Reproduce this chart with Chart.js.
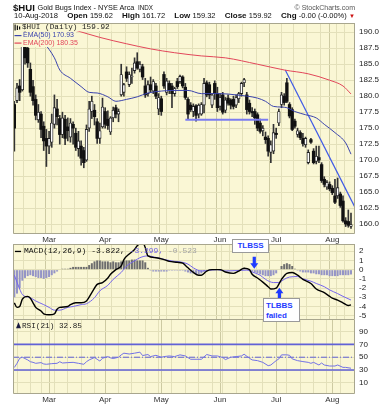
<!DOCTYPE html>
<html>
<head>
<meta charset="utf-8">
<script src="https://cdn.jsdelivr.net/npm/chart.js@4.4.1/dist/chart.umd.min.js"></script>
<style>
  html, body { margin: 0; padding: 0; background: #fff; }
  #wrap { position: relative; width: 392px; height: 407px; overflow: hidden;
          font-family: "Liberation Sans", Arial, sans-serif; color: #111; }
  canvas { position: absolute; left: 0; }
  .abs { position: absolute; line-height: 1; white-space: nowrap; }
  #row2 { position: absolute; left: 14px; width: 341px; top: 12.3px; display: flex; font-size: 8px;
          justify-content: space-between; align-items: baseline; white-space: nowrap; line-height: 1; }
  #row2 b { font-size: 8px; }
  #row2 .n { font-size: 7.5px; }
  .note { position: absolute; background: #fff; border: 1px solid #9a9a9a; color: #1f3bff;
          font: bold 8px "Liberation Sans", Arial, sans-serif; box-sizing: border-box; line-height: 10px; }
</style>
</head>
<body>
<div id="wrap">
  <canvas id="mainChart" width="392" height="244" style="top:0"></canvas>
  <canvas id="macdChart" width="392" height="76" style="top:244px"></canvas>
  <canvas id="rsiChart" width="392" height="87" style="top:320px"></canvas>

  <span class="abs" style="left:13px;top:2.6px;font-weight:bold;font-size:9.6px">$HUI</span>
  <span class="abs" style="left:37.5px;top:4.1px;font-size:7.3px">Gold Bugs Index - NYSE Arca</span>
  <span class="abs" style="left:138px;top:4.8px;font-size:6.3px">INDX</span>
  <span class="abs" style="right:37px;top:4px;font-size:7px;color:#555">© StockCharts.com</span>
  <div id="row2">
    <span style="font-size:7.6px">10-Aug-2018</span>
    <span><b>Open</b> <span class="n">159.62</span></span>
    <span><b>High</b> <span class="n">161.72</span></span>
    <span><b>Low</b> <span class="n">159.32</span></span>
    <span><b>Close</b> <span class="n">159.92</span></span>
    <span><b>Chg</b> <span class="n">-0.00 (-0.00%)</span> <span style="color:#cc1111;font-size:6px">▼</span></span>
  </div>

  <div class="note" style="left:232px;top:239px;width:37px;height:14px;text-align:center;line-height:12px">TLBSS</div>
  <div class="note" style="left:263px;top:298px;width:37px;height:24px;padding:2px 0 0 2px">TLBBS<br>failed</div>
</div>

<script>
// ---- time axis (trading day index, 9-Feb-2018 .. 10-Aug-2018) ----
const monthStarts = [13, 34, 55, 77, 98, 119];
const monthNames = ['Mar', 'Apr', 'May', 'Jun', 'Jul', 'Aug'];
const weekStarts = [1, 6, 10, 15, 20, 25, 30, 34, 39, 44, 49, 54, 59, 64, 69, 74, 78, 83, 88, 93, 98, 102, 107, 112, 117, 122];

// ---- $HUI daily candles ----
const opens = [178.7,179.3,181.6,181.0,189.0,187.5,184.2,181.5,179.5,176.3,177.2,175.3,173.4,
  172.2,172.8,175.6,178.0,176.5,174.0,176.4,175.2,173.6,175.6,174.2,171.8,172.2,171.5,170.0,175.0,177.6,177.8,176.0,173.4,175.2,
  177.6,176.4,174.4,176.6,178.2,177.2,180.2,180.6,183.8,181.8,183.0,184.0,185.4,184.2,184.6,181.6,180.4,181.8,180.8,181.6,178.0,
  179.6,183.4,180.6,182.0,181.6,180.4,182.3,182.3,183.0,181.4,179.5,178.6,177.6,178.5,177.2,177.2,178.6,182.1,181.8,178.6,182.0,180.4,
  178.4,180.2,177.8,179.7,179.4,179.5,178.6,179.6,180.4,182.1,180.2,178.9,177.6,177.6,177.1,175.8,174.6,173.6,173.4,171.2,171.4,
  174.2,175.8,178.7,180.0,182.1,178.7,177.9,176.1,174.0,174.3,173.4,172.4,169.6,173.2,171.4,169.8,170.4,169.3,167.0,165.8,166.2,
  165.6,164.4,164.4,164.7,163.6,160.5,160.4,159.62];
const highs = [179.2,182.0,182.6,189.8,190.2,189.0,185.2,182.5,180.2,178.7,177.6,176.0,174.8,
  174.5,177.2,180.2,179.5,177.0,177.5,177.0,176.6,176.5,176.0,175.0,174.5,173.0,172.0,175.5,179.2,180.0,178.7,176.5,175.8,179.7,
  178.2,177.7,176.8,178.3,178.6,178.0,185.0,182.0,184.6,183.8,184.4,186.0,186.8,185.4,185.0,182.8,182.4,183.0,182.6,182.0,180.4,
  180.0,183.8,182.8,182.4,182.0,181.4,182.8,183.3,183.2,182.0,179.8,179.0,178.8,178.7,178.8,179.0,182.8,182.4,182.2,180.4,182.4,181.4,
  180.4,180.6,179.8,180.2,179.6,180.0,180.2,180.6,182.2,182.8,180.6,179.4,178.2,178.0,177.4,176.4,175.4,174.4,173.8,173.0,175.6,
  175.0,178.0,180.6,180.4,182.8,179.0,178.2,176.4,175.0,174.6,174.2,173.6,171.6,173.4,171.8,172.2,172.2,169.6,167.4,166.8,166.6,
  166.0,167.0,167.2,165.0,164.4,161.0,162.2,161.72];
const lows = [171.4,179.0,179.3,180.8,185.0,184.5,180.0,178.6,176.3,175.9,173.5,171.5,169.0,
  171.0,172.0,175.0,175.5,172.5,173.5,172.4,173.0,172.8,172.5,171.5,170.6,169.2,168.8,169.8,174.5,176.5,175.5,172.6,172.6,175.0,
  175.0,174.8,174.0,176.0,176.6,176.0,180.0,180.0,182.3,181.5,182.0,183.6,184.2,183.8,182.6,179.8,180.0,180.6,180.4,179.6,177.1,
  177.0,181.2,180.2,180.4,178.2,180.0,181.2,182.0,181.3,179.5,176.4,177.6,176.8,176.1,176.6,177.0,177.4,179.9,179.6,178.2,179.5,177.6,
  177.8,177.2,177.4,178.6,178.0,178.0,178.2,179.0,180.0,181.5,177.2,177.2,176.8,175.6,174.6,174.2,173.8,172.6,170.6,169.6,171.0,
  173.4,175.4,178.2,178.6,179.0,176.6,174.6,175.0,173.6,173.2,172.2,172.0,169.4,172.6,169.4,169.4,169.6,166.5,165.8,165.4,165.2,
  164.6,163.2,164.0,162.6,160.3,159.6,159.5,159.32];
const closes = [175.0,181.3,180.6,188.6,186.0,185.2,180.6,179.3,177.0,177.5,174.8,173.0,172.2,
  173.4,175.8,178.2,176.8,174.0,176.6,173.4,174.6,175.8,175.0,172.0,173.0,170.3,169.6,174.8,178.0,179.2,176.8,173.4,174.6,178.3,
  175.6,175.4,176.6,177.8,177.2,177.6,183.4,181.8,182.8,183.4,183.0,185.2,184.4,185.0,183.0,180.2,181.8,181.0,182.3,180.0,179.8,
  177.6,181.6,182.4,181.0,180.4,181.2,181.5,183.1,181.6,179.8,177.2,177.9,178.4,177.0,178.6,178.7,182.0,180.2,180.2,180.2,180.4,178.2,
  179.8,177.5,179.4,178.9,178.6,178.4,179.8,180.4,182.0,182.6,177.9,177.6,177.4,176.6,175.0,174.5,175.0,173.2,171.4,172.4,174.3,
  174.0,177.6,180.2,179.0,179.2,176.9,174.8,175.3,174.6,173.5,172.6,173.4,171.2,172.8,169.6,170.6,170.0,166.8,166.2,166.5,165.5,
  164.9,163.4,165.7,162.9,160.5,160.0,159.8,159.92];

// ---- moving averages [day, value] ----
const ema50 = [[0,193],[5,191],[11,188.4],[15,186.0],[17,184.1],[21,182.8],[25,181.5],[28,180.6],[31,180.5],[35,179.9],
  [38,179.2],[42,179.5],[46,179.9],[50,180.5],[55,180.8],[59,180.9],[65,180.9],[70,180.4],[77,180.4],[83,180.2],[91,179.7],
  [94,179.2],[97,178.4],[100,178.3],[102,178.2],[105,177.6],[109,177.1],[113,176.6],[116,175.6],[120,174.3],[124,172.7],[126,170.93]];
const ema200 = [[0,193.5],[13,191.5],[23,190.3],[32,189.2],[42,188.2],[51,187.4],[60,186.8],[70,186.3],[79,186.0],[91,185.0],
  [101,184.1],[110,183.5],[118,182.5],[123,181.6],[126,180.35]];

// ---- trend lines [day, price] ----
const supportLine = [[64,176.3],[95,176.3]];
const downTrend = [[101.4,184.1],[127.5,162.6]];

// ---- MACD(12,26,9) ----
const macdLine = [[0,-3.6],[1,-4.1],[2,-4.0],[3,-3.2],[5,-2.9],[6,-3.1],[7,-3.6],[8,-4.1],[10,-4.5],[11,-4.8],[13,-4.9],
  [15,-4.8],[16,-4.3],[17,-4.1],[20,-4.0],[21,-3.8],[23,-3.6],[25,-3.6],[27,-3.4],[29,-2.5],[31,-1.6],[33,-1.4],[35,-0.9],
  [36,-0.5],[38,0.0],[40,0.4],[41,1.1],[43,1.7],[45,2.2],[46,2.6],[48,3.0],[49,2.4],[50,1.5],[53,1.3],[56,1.1],[58,0.9],
  [61,0.8],[63,0.7],[65,0.2],[67,-0.3],[69,-0.6],[70,-0.6],[72,-0.15],[74,0.0],[77,0.0],[79,-0.25],[82,-0.4],[84,-0.15],
  [86,0.15],[88,0.0],[89,-0.5],[91,-0.9],[93,-1.35],[95,-1.85],[96,-2.1],[98,-2.0],[100,-1.05],[102,-0.4],[104,-0.3],
  [106,-0.6],[108,-1.05],[111,-1.5],[113,-2.1],[116,-2.5],[118,-2.9],[119,-3.1],[121,-3.3],[123,-3.6],[125,-3.9],[126,-3.822]];
const signalLine = [[0,-0.6],[2,-2.1],[3,-2.7],[6,-3.05],[8,-3.4],[11,-3.8],[13,-4.1],[15,-4.4],[17,-4.4],[20,-4.1],
  [22,-4.0],[25,-3.8],[27,-3.7],[30,-3.05],[32,-2.3],[35,-1.7],[37,-1.05],[40,-0.3],[42,0.4],[45,0.95],[47,1.3],[50,1.5],
  [52,1.4],[55,1.2],[57,1.05],[60,0.9],[62,0.85],[65,0.6],[67,0.2],[70,-0.15],[72,-0.1],[76,0.0],[79,-0.15],[83,-0.1],
  [87,-0.05],[89,-0.25],[92,-0.6],[94,-1.05],[97,-1.4],[99,-1.4],[101,-1.05],[103,-0.8],[106,-0.75],[108,-1.0],[111,-1.25],
  [113,-1.5],[116,-1.85],[118,-2.2],[121,-2.6],[123,-2.9],[126,-3.299]];
const macdHist = [-3.0,-2.6,-2.0,-1.2,-0.9,-0.7,-0.6,-0.7,-0.8,-0.9,
  -0.9,-1.0,-0.9,-0.8,-0.6,-0.4,-0.2,0.0,0.1,0.1,
  0.1,0.2,0.3,0.3,0.3,0.3,0.3,0.3,0.5,0.7,
  0.9,1.0,1.0,0.9,0.9,0.9,0.8,0.9,0.8,0.8,
  0.9,1.0,1.0,1.0,1.1,1.1,1.0,1.0,1.0,0.8,
  0.2,-0.1,-0.2,-0.2,-0.2,-0.2,-0.2,-0.2,-0.1,-0.1,
  -0.1,-0.1,-0.1,-0.1,-0.2,-0.3,-0.4,-0.4,-0.5,-0.5,
  -0.4,-0.2,-0.1,0.0,0.0,0.0,0.0,0.0,-0.1,-0.1,
  -0.1,-0.1,-0.1,0.0,0.0,0.1,0.2,0.1,0.0,-0.2,
  -0.3,-0.4,-0.5,-0.6,-0.7,-0.7,-0.7,-0.6,-0.4,0.0,
  0.4,0.6,0.7,0.6,0.4,0.1,-0.1,-0.2,-0.3,-0.3,
  -0.3,-0.4,-0.4,-0.5,-0.5,-0.6,-0.6,-0.6,-0.7,-0.7,
  -0.7,-0.7,-0.6,-0.6,-0.6,-0.6,-0.523];
// arrow anchors for the TLBSS / TLBBS notes [day, macd value, direction]
const macdArrows = [[89.8, 0.11, 1], [99.2, -1.96, -1]];

// ---- RSI(21) [day, value] ----
const rsiLine = [[0,34],[1,40.5],[2,48.4],[3,50],[5,45.8],[6,43],[7,42],[8,40.5],[10,41.6],[11,39.5],[12,39],[14,40],
  [16,40.5],[17,43],[18,41],[20,41.6],[22,42],[24,40.5],[26,39],[27,43],[28,45.8],[30,49.5],[31,46.8],[32,44],[33,48.4],
  [35,51],[36,49],[37,48],[39,50],[40,53.7],[41,56.3],[43,55],[45,56.3],[47,57.9],[48,52.6],[50,54.2],[51,51],[53,53],
  [55,50],[56,51],[58,52],[60,51],[62,53.7],[64,52],[66,46.8],[68,46.8],[70,46.8],[72,54.2],[74,52],[76,52],[78,49.5],
  [79,46.3],[81,50],[83,51],[85,52],[86,54.7],[88,48.4],[89,45.8],[91,44.7],[93,42],[95,36.8],[96,37.9],[98,44.7],
  [99,47.4],[100,53.7],[102,53.7],[103,53],[104,47.4],[106,44.7],[108,43.2],[110,42],[111,40.5],[112,42],[114,37.9],
  [115,41],[116,37.9],[118,36.3],[120,36.3],[121,37.9],[123,34.2],[124,34.2],[126,32.85]];
const rsiLevels = [70, 50, 30];

// ---- axis ticks ----
const mainTicks = [160, 162.5, 165, 167.5, 170, 172.5, 175, 177.5, 180, 182.5, 185, 187.5, 190];
const macdTicks = [-5, -4, -3, -2, -1, 0, 1, 2];
const rsiTicks = [10, 30, 50, 70, 90];

// ---- look ----
const PLOT_BG = '#faf7d5';
const GRID = '#e3e0ba';
const GRID_MONTH = '#cdcaa2';
const FRAME = '#a8a68e';
const SANS = '"Liberation Sans", Arial, sans-serif';
const MONO = '"Liberation Mono", "Courier New", monospace';

Chart.defaults.font.family = SANS;
Chart.defaults.animation = false;
Chart.defaults.responsive = false;
Chart.defaults.plugins.legend.display = false;
Chart.defaults.plugins.tooltip.enabled = false;

const pts = arr => arr.map(([x, y]) => ({ x, y }));
const xTicks = [...new Set([...weekStarts, ...monthStarts])].sort((a, b) => a - b);

// chart.js reserves half a label of room at the axis ends; the panels here butt against each other
function noPad(s) { s.paddingTop = 0; s.paddingBottom = 0; s.paddingLeft = 0; s.paddingRight = 0; }

function xScale(labelHeight) {
  return {
    type: 'linear', min: -0.5, max: 127.5, offset: false,
    afterBuildTicks: s => { s.ticks = xTicks.map(v => ({ value: v })); },
    afterFit: s => { s.height = labelHeight; noPad(s); },
    ticks: {
      display: labelHeight > 0, autoSkip: false, maxRotation: 0, padding: 1,
      color: '#333', font: { size: 8 },
      callback: v => { const k = monthStarts.indexOf(v); return k >= 0 ? monthNames[k] : ''; }
    },
    grid: {
      drawTicks: false, lineWidth: 1,
      color: c => (c.tick && monthStarts.includes(c.tick.value)) ? GRID_MONTH : GRID
    },
    border: { display: false }
  };
}
function yScale(min, max, ticks, fmt) {
  return {
    position: 'right', min, max,
    afterBuildTicks: s => { s.ticks = ticks.map(v => ({ value: v })); },
    afterFit: s => { s.width = 37; noPad(s); },
    ticks: { autoSkip: false, padding: 4, color: '#222', font: { size: 8 }, callback: fmt },
    grid: { drawTicks: false, color: GRID },
    border: { display: false }
  };
}
function panelFrame(skipTop) {
  return {
    id: 'panelFrame',
    beforeDraw(chart) {
      const { ctx, chartArea: a } = chart;
      ctx.save(); ctx.fillStyle = PLOT_BG;
      ctx.fillRect(a.left, a.top, a.right - a.left, a.bottom - a.top);
      ctx.restore();
    },
    afterDraw(chart) {
      const { ctx, chartArea: a } = chart;
      ctx.save(); ctx.strokeStyle = FRAME; ctx.lineWidth = 1;
      ctx.beginPath();
      if (!skipTop) { ctx.moveTo(a.left + 0.5, a.top + 0.5); ctx.lineTo(a.right - 0.5, a.top + 0.5); }
      ctx.moveTo(a.right - 0.5, a.top); ctx.lineTo(a.right - 0.5, a.bottom - 0.5);
      ctx.lineTo(a.left + 0.5, a.bottom - 0.5); ctx.lineTo(a.left + 0.5, a.top);
      ctx.stroke(); ctx.restore();
    }
  };
}

// legend label painted inside a panel: parts = [[text, color], ...]
function paintLabel(ctx, x, y, font, parts, bg) {
  ctx.font = font; ctx.textBaseline = 'middle';
  let w = 0;
  parts.forEach(p => { w += ctx.measureText(p[0]).width; });
  if (bg) { ctx.fillStyle = PLOT_BG; ctx.fillRect(x - 9, y - 4, w + 11, 8); }
  parts.forEach(p => { ctx.fillStyle = p[1]; ctx.fillText(p[0], x, y); x += ctx.measureText(p[0]).width; });
}

// ================= main price panel =================
const upDay = closes.map((c, i) => c >= opens[i]);
new Chart(document.getElementById('mainChart'), {
  type: 'bar',
  data: {
    datasets: [
      { type: 'line', data: pts(ema50), borderColor: '#3b44ad', borderWidth: 1, pointRadius: 0, cubicInterpolationMode: 'monotone', order: 0 },
      { type: 'line', data: pts(ema200), borderColor: '#e2475a', borderWidth: 1, pointRadius: 0, cubicInterpolationMode: 'monotone', order: 0 },
      { type: 'line', data: pts(supportLine), borderColor: '#7b7cf0', borderWidth: 2, pointRadius: 0, order: 0 },
      { type: 'line', data: pts(downTrend), borderColor: '#3f5ae6', borderWidth: 1.2, pointRadius: 0, order: 0 },
      { data: closes.map((c, i) => ({ x: i, y: [opens[i], c] })), grouped: false, barThickness: 2.7, minBarLength: 1,
        backgroundColor: upDay.map(u => u ? '#ffffff' : '#111111'), borderColor: '#222', borderWidth: upDay.map(u => u ? 0.9 : 0),
        borderSkipped: false, order: 1 },
      { data: closes.map((c, i) => ({ x: i, y: [lows[i], highs[i]] })), grouped: false, barThickness: 1,
        backgroundColor: '#333', borderWidth: 0, order: 2 }
    ]
  },
  options: {
    layout: { padding: { top: 23, left: 13, right: 0, bottom: 0 } },
    scales: { x: xScale(10), y: yScale(158.44, 191.45, mainTicks, v => v.toFixed(1)) }
  },
  plugins: [panelFrame(false), {
    id: 'mainLegend',
    afterDatasetsDraw(chart) {
      const { ctx, chartArea: a } = chart;
      const x0 = a.left + 9;
      ctx.save();
      paintLabel(ctx, x0, a.top + 4.3, '7.7px ' + MONO, [['$HUI (Daily) 159.92', '#222']], true);
      ctx.fillStyle = '#111';
      ctx.fillRect(a.left + 1.5, a.top + 1.5, 1.2, 6); ctx.fillRect(a.left + 3.8, a.top + 2.5, 1.2, 4.5); ctx.fillRect(a.left + 6, a.top + 3.5, 1.2, 3);
      paintLabel(ctx, x0 + 1, a.top + 12.5, '7px ' + SANS, [['EMA(50) 170.93', '#3b44ad']], true);
      paintLabel(ctx, x0 + 1, a.top + 20, '7px ' + SANS, [['EMA(200) 180.35', '#e2475a']], true);
      ctx.fillStyle = '#3b44ad'; ctx.fillRect(a.left + 1.5, a.top + 12, 7, 1.2);
      ctx.fillStyle = '#e2475a'; ctx.fillRect(a.left + 1.5, a.top + 19.5, 7, 1.2);
      ctx.restore();
    }
  }]
});

// ================= MACD panel =================
new Chart(document.getElementById('macdChart'), {
  type: 'bar',
  data: {
    datasets: [
      { type: 'line', data: pts(macdLine), borderColor: '#000', borderWidth: 1.4, pointRadius: 0, cubicInterpolationMode: 'monotone', order: 0 },
      { type: 'line', data: pts(signalLine), borderColor: '#7566ee', borderWidth: 1, pointRadius: 0, cubicInterpolationMode: 'monotone', order: 0 },
      { data: macdHist.map((v, i) => ({ x: i, y: v })), backgroundColor: macdHist.map(v => v >= 0 ? '#6d6d6d' : '#9494c6'),
        barPercentage: 0.75, categoryPercentage: 1, order: 1 }
    ]
  },
  options: {
    layout: { padding: { top: 0, left: 13, right: 0, bottom: 0 } },
    scales: { x: xScale(0), y: yScale(-5.47, 2.79, macdTicks, v => String(v)) }
  },
  plugins: [panelFrame(false), {
    id: 'macdLegend',
    afterDatasetsDraw(chart) {
      const { ctx, chartArea: a, scales } = chart;
      ctx.save();
      ctx.fillStyle = '#000'; ctx.fillRect(a.left + 2, a.top + 6.8, 6, 1.3);
      paintLabel(ctx, a.left + 11, a.top + 7.3, '8px ' + MONO,
        [['MACD(12,26,9) -3.822,', '#111'], [' -3.299,', '#6f60e6'], [' -0.523', '#a4a4a4']], false);
      ctx.fillStyle = '#1f3bff';
      macdArrows.forEach(([dx, dv, d]) => {
        const px = scales.x.getPixelForValue(dx), py = scales.y.getPixelForValue(dv);
        ctx.beginPath();
        ctx.moveTo(px, py);
        ctx.lineTo(px - 4, py - d * 5.5); ctx.lineTo(px - 1.6, py - d * 5.5);
        ctx.lineTo(px - 1.6, py - d * 12); ctx.lineTo(px + 1.6, py - d * 12);
        ctx.lineTo(px + 1.6, py - d * 5.5); ctx.lineTo(px + 4, py - d * 5.5);
        ctx.closePath(); ctx.fill();
      });
      ctx.restore();
    }
  }]
});

// ================= RSI panel =================
const levelSets = rsiLevels.map(lv => ({
  type: 'line', data: [{ x: -0.5, y: lv }, { x: 127.5, y: lv }], borderColor: '#6161d6',
  borderWidth: lv === 50 ? 1 : 1.6, borderDash: lv === 50 ? [6, 2, 1, 2] : [], pointRadius: 0, order: 1
}));
new Chart(document.getElementById('rsiChart'), {
  type: 'line',
  data: {
    datasets: [
      { data: pts(rsiLine), borderColor: '#7272e6', borderWidth: 1, pointRadius: 0, order: 0 },
      ...levelSets
    ]
  },
  options: {
    layout: { padding: { top: 0, left: 13, right: 0, bottom: 0 } },
    scales: { x: xScale(13), y: yScale(-7.3, 108, rsiTicks, v => String(v)) }
  },
  plugins: [panelFrame(true), {
    id: 'rsiLegend',
    afterDatasetsDraw(chart) {
      const { ctx, chartArea: a } = chart;
      ctx.save();
      ctx.fillStyle = '#1a1a40';
      ctx.beginPath(); ctx.moveTo(a.left + 5.5, a.top + 2.3); ctx.lineTo(a.left + 8, a.top + 8.3); ctx.lineTo(a.left + 3, a.top + 8.3); ctx.closePath(); ctx.fill();
      paintLabel(ctx, a.left + 9, a.top + 5.5, '7.7px ' + MONO, [['RSI(21) 32.85', '#222']], false);
      ctx.restore();
    }
  }]
});
</script>
</body>
</html>
